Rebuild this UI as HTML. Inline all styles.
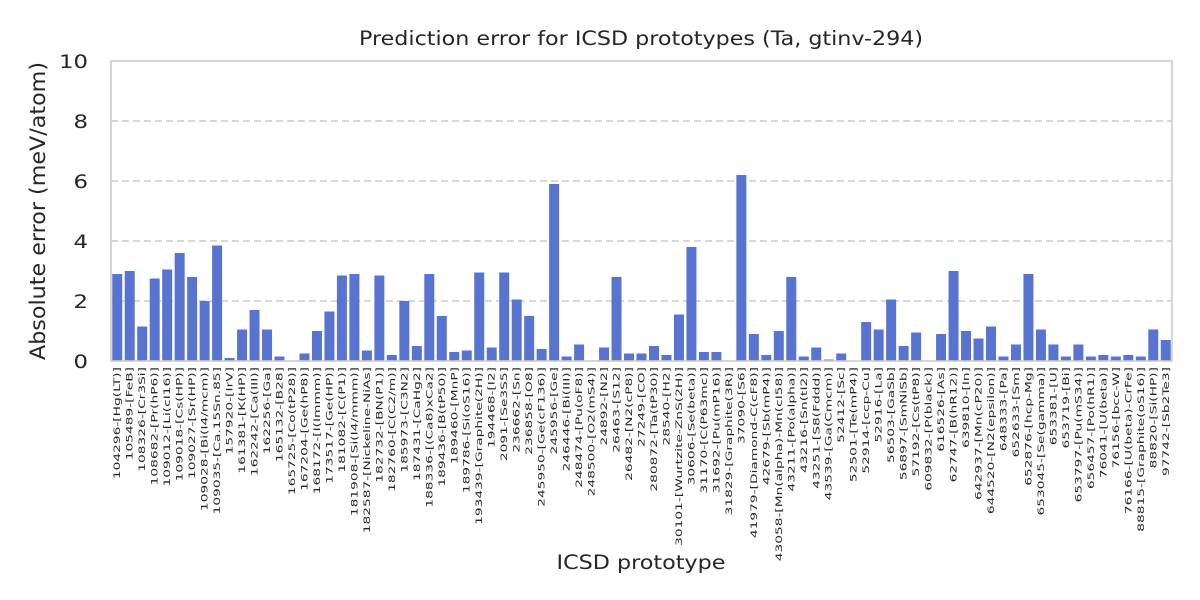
<!DOCTYPE html>
<html><head><meta charset="utf-8"><style>
html,body{margin:0;padding:0;background:#fff;}
svg{display:block;font-family:"DejaVu Sans","Liberation Sans",sans-serif;}
</style></head><body>
<svg id="chart" width="1200" height="600" viewBox="0 0 1200 600">
<text x="641" y="45" text-anchor="middle" font-size="19.5" textLength="564" lengthAdjust="spacingAndGlyphs" fill="#262626">Prediction error for ICSD prototypes (Ta, gtinv-294)</text>
<text transform="translate(45,211) rotate(-90)" text-anchor="middle" font-size="21" textLength="298" lengthAdjust="spacingAndGlyphs" fill="#262626">Absolute error (meV/atom)</text>
<text x="641" y="569" text-anchor="middle" font-size="19.5" textLength="169" lengthAdjust="spacingAndGlyphs" fill="#262626">ICSD prototype</text>
<g id="grid"></g><g id="bars"></g><g id="yticks"></g><g id="xticks"></g>
<rect x="111" y="61" width="1061" height="300" fill="none" stroke="#cccccc" stroke-width="1.6"/>
</svg>
<script>
const categories=["104296-[Hg(LT)]","105489-[FeB]","108326-[Cr3Si]","108682-[Pr(hP6)]","109012-[Li(cI16)]","109018-[Cs(HP)]","109027-[Sr(HP)]","109028-[Bi(I4/mcm)]","109035-[Ca.15Sn.85]","157920-[IrV]","161381-[K(HP)]","162242-[Ca(III)]","162256-[Ga]","165132-[B28]","165725-[Co(tP28)]","167204-[Ge(hP8)]","168172-[I(Immm)]","173517-[Ge(HP)]","181082-[C(P1)]","181908-[Si(I4/mmm)]","182587-[Nickeline-NiAs]","182732-[BN(P1)]","182760-[C(C2/m)]","185973-[C3N2]","187431-[CaHg2]","188336-[(Ca8)xCa2]","189436-[B(tP50)]","189460-[MnP]","189786-[Si(oS16)]","193439-[Graphite(2H)]","194468-[I2]","2091-[Se3S5]","236662-[Sn]","236858-[O8]","245950-[Ge(cF136)]","245956-[Ge]","246446-[Bi(III)]","248474-[Pu(oF8)]","248500-[O2(mS4)]","24892-[N2]","26463-[S12]","26482-[N2(cP8)]","27249-[CO]","280872-[Ta(tP30)]","28540-[H2]","30101-[Wurtzite-ZnS(2H)]","30606-[Se(beta)]","31170-[C(P63mc)]","31692-[Pu(mP16)]","31829-[Graphite(3R)]","37090-[S6]","41979-[Diamond-C(cF8)]","42679-[Sb(mP4)]","43058-[Mn(alpha)-Mn(cI58)]","43211-[Po(alpha)]","43216-[Sn(tI2)]","43251-[S8(Fddd)]","43539-[Ga(Cmcm)]","52412-[Sc]","52501-[Te(mP4)]","52914-[ccp-Cu]","52916-[La]","56503-[GaSb]","56897-[SmNiSb]","57192-[Cs(tP8)]","609832-[P(black)]","616526-[As]","62747-[B(hR12)]","639810-[In]","642937-[Mn(cP20)]","644520-[N2(epsilon)]","648333-[Pa]","652633-[Sm]","652876-[hcp-Mg]","653045-[Se(gamma)]","653381-[U]","653719-[Bi]","653797-[Pu(mS34)]","656457-[Po(hR1)]","76041-[U(beta)]","76156-[bcc-W]","76166-[U(beta)-CrFe]","88815-[Graphite(oS16)]","88820-[Si(HP)]","97742-[Sb2Te3]"];
const errors=[2.9,3.0,1.15,2.75,3.05,3.6,2.8,2.0,3.85,0.1,1.05,1.7,1.05,0.15,0,0.25,1.0,1.65,2.85,2.9,0.35,2.85,0.2,2.0,0.5,2.9,1.5,0.3,0.35,2.95,0.45,2.95,2.05,1.5,0.4,5.9,0.15,0.55,0,0.45,2.8,0.25,0.25,0.5,0.2,1.55,3.8,0.3,0.3,0,6.2,0.9,0.2,1.0,2.8,0.15,0.45,0.05,0.25,0,1.3,1.05,2.05,0.5,0.95,0,0.9,3.0,1.0,0.75,1.15,0.15,0.55,2.9,1.05,0.55,0.15,0.55,0.15,0.2,0.15,0.2,0.15,1.05,0.7];
const yTickLabels=["0","2","4","6","8","10"];
const yTickValues=[0,2,4,6,8,10];

const NS="http://www.w3.org/2000/svg";
const X0=111,X1=1172,Y0=361,Y1=61,YMAX=10;
const step=(X1-X0)/categories.length;
const xc=i=>X0+step*(i+0.5);
const y=v=>Y0-(v/YMAX)*(Y0-Y1);
function mk(t,a){const e=document.createElementNS(NS,t);for(const k in a)e.setAttribute(k,a[k]);return e;}
const grid=document.getElementById('grid'),yt=document.getElementById('yticks'),bars=document.getElementById('bars'),xt=document.getElementById('xticks');
yTickValues.forEach((v,i)=>{
  if(v>0&&v<YMAX){const l=mk('line',{x1:X0,x2:X1,y1:y(v),y2:y(v),stroke:'#cccccc','stroke-width':1.5,'stroke-dasharray':'7,4'});
  
  
  grid.appendChild(l);}
  const t=mk('text',{transform:`translate(88,${y(v)+7}) scale(1.2,1)`,'text-anchor':'end','font-size':'19',fill:'#262626'});
  t.textContent=yTickLabels[i];
  
  
  yt.appendChild(t);
});
const bw=step*0.8;
errors.forEach((v,i)=>{
  const r=mk('rect',{x:xc(i)-bw/2,y:y(v),width:bw,height:Y0-y(v),fill:'#5874d0'});
  
  
  bars.appendChild(r);
});
categories.forEach((c,i)=>{
  const t=mk('text',{transform:`translate(${xc(i)+3},367) rotate(-90) scale(1.6,1)`,'text-anchor':'end','font-size':'8.6',fill:'#262626'});
  t.textContent=c;
  
  
  xt.appendChild(t);
});
</script>
</body></html>
